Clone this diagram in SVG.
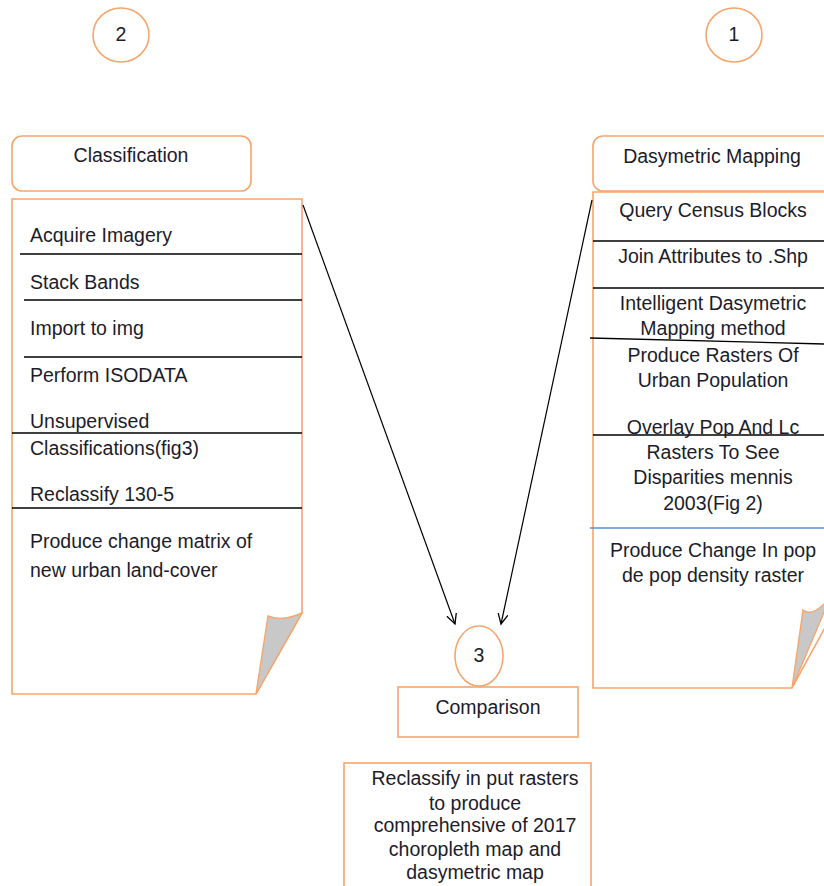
<svg xmlns="http://www.w3.org/2000/svg" width="824" height="886" viewBox="0 0 824 886">
<defs>
<style>
.o{fill:#fff;stroke:#f7a56b;stroke-width:1.6}
.t{font-family:"Liberation Sans",Arial,sans-serif;font-size:19.5px;fill:#1c1c2a}
.c{text-anchor:middle}
.sep{stroke:#000;stroke-width:1.3}
.fold{fill:#c8c8c8;stroke:#f7a56b;stroke-width:1.4}
.ar{stroke:#000;stroke-width:1.2;fill:none}
</style>
<marker id="ah" markerWidth="12" markerHeight="12" refX="10" refY="5" orient="auto" markerUnits="userSpaceOnUse">
<path d="M0,0 L10,5 L0,10" fill="none" stroke="#000" stroke-width="1.3"/>
</marker>
</defs>
<rect width="824" height="886" fill="#fff"/>

<g id="n2">
<ellipse class="o" cx="121" cy="35" rx="28" ry="27"/>
<text class="t c" x="121" y="41">2</text>
</g>
<g id="n1">
<ellipse class="o" cx="734" cy="35" rx="28" ry="27"/>
<text class="t c" x="734" y="41">1</text>
</g>

<g id="classification">
<rect class="o" x="12" y="136" width="239" height="55" rx="10"/>
<text class="t c" x="131" y="162">Classification</text>
</g>

<g id="left-doc">
<path class="o" d="M12,199 H302 V613 L256,694 H12 Z"/>
<path class="fold" d="M268,616 Q282,622 302,613 L256,694 Z"/>
<line class="sep" x1="20" y1="254" x2="302" y2="254"/>
<line class="sep" x1="24" y1="300" x2="302" y2="300"/>
<line class="sep" x1="24" y1="357" x2="302" y2="357"/>
<line class="sep" x1="12" y1="433" x2="302" y2="433"/>
<line class="sep" x1="12" y1="508" x2="302" y2="508"/>
<text class="t" x="30" y="242">Acquire Imagery</text>
<text class="t" x="30" y="289">Stack Bands</text>
<text class="t" x="30" y="335">Import to img</text>
<text class="t" x="30" y="382">Perform ISODATA</text>
<text class="t" x="30" y="428">Unsupervised</text>
<text class="t" x="30" y="455">Classifications(fig3)</text>
<text class="t" x="30" y="501">Reclassify 130-5</text>
<text class="t" x="30" y="548">Produce change matrix of</text>
<text class="t" x="30" y="577">new urban land-cover</text>
</g>

<g id="dasymetric">
<rect class="o" x="593" y="136" width="250" height="55" rx="10"/>
<text class="t c" x="712" y="163">Dasymetric Mapping</text>
</g>

<g id="right-doc">
<path class="o" d="M593,192 H840 V600 L792,688 H593 Z"/>
<path class="fold" d="M803,610 Q812,618 830,598 L792,688 Z"/>
<line class="sep" x1="593" y1="241" x2="824" y2="241"/>
<line class="sep" x1="593" y1="288" x2="824" y2="288"/>
<line class="sep" x1="590" y1="338" x2="824" y2="344"/>
<line class="sep" x1="593" y1="435" x2="824" y2="435"/>
<line x1="590" y1="528" x2="824" y2="528" stroke="#5b8fd0" stroke-width="1.3"/>
<text class="t c" x="713" y="217">Query Census Blocks</text>
<text class="t c" x="713" y="263">Join Attributes to .Shp</text>
<text class="t c" x="713" y="310">Intelligent Dasymetric</text>
<text class="t c" x="713" y="335">Mapping method</text>
<text class="t c" x="713" y="362">Produce Rasters Of</text>
<text class="t c" x="713" y="387">Urban Population</text>
<text class="t c" x="713" y="434">Overlay Pop And Lc</text>
<text class="t c" x="713" y="459">Rasters To See</text>
<text class="t c" x="713" y="484">Disparities mennis</text>
<text class="t c" x="713" y="510">2003(Fig 2)</text>
<text class="t c" x="713" y="557">Produce Change In pop</text>
<text class="t c" x="713" y="582">de pop density raster</text>
</g>

<g id="connectors">
<line class="ar" x1="303" y1="205" x2="455" y2="624" marker-end="url(#ah)"/>
<line class="ar" x1="592" y1="200" x2="501" y2="624" marker-end="url(#ah)"/>
</g>

<g id="n3">
<ellipse class="o" cx="479" cy="656" rx="24" ry="30"/>
<text class="t c" x="479" y="662">3</text>
</g>

<g id="comparison">
<rect class="o" x="398" y="687" width="180" height="50"/>
<text class="t c" x="488" y="714">Comparison</text>
</g>

<g id="result">
<rect class="o" x="344" y="763" width="247" height="130"/>
<text class="t c" x="475" y="785">Reclassify in put rasters</text>
<text class="t c" x="475" y="810">to produce</text>
<text class="t c" x="475" y="832">comprehensive of 2017</text>
<text class="t c" x="475" y="856">choropleth map and</text>
<text class="t c" x="475" y="879">dasymetric map</text>
</g>
</svg>
